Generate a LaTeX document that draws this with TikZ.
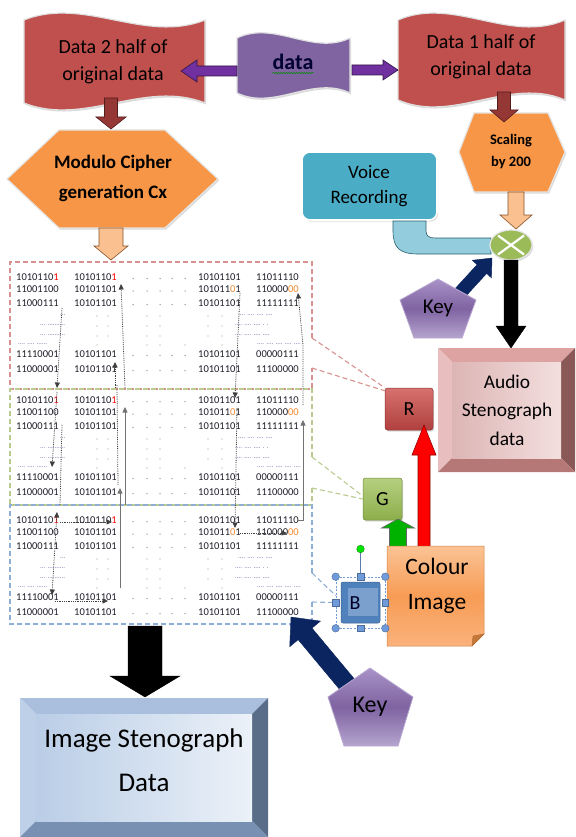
\documentclass[tikz,border=0pt]{standalone}
\usepackage{fontspec}
\setmainfont{Carlito}
\usetikzlibrary{calc,arrows.meta,shadows,decorations.pathmorphing}

\definecolor{banred}{HTML}{C0504D}
\definecolor{banpurple}{HTML}{8064A2}
\definecolor{arrpurple}{HTML}{7030A0}
\definecolor{arrbrown}{HTML}{953735}
\definecolor{hexorange}{HTML}{F79646}
\definecolor{paleorange}{HTML}{FAC090}
\definecolor{voiceblue}{HTML}{4BACC6}
\definecolor{pipeblue}{HTML}{93CDDD}
\definecolor{mixgreen}{HTML}{9BBB59}
\definecolor{keynavy}{HTML}{0B2560}
\definecolor{keytop}{HTML}{A892C6}
\definecolor{keymid}{HTML}{7F63A2}
\definecolor{keybot}{HTML}{B5A4CE}
\definecolor{dashred}{HTML}{D99290}
\definecolor{dashgreen}{HTML}{B9CC8E}
\definecolor{dashblue}{HTML}{8EAED6}
\definecolor{bitgrey}{HTML}{1E1E2A}
\definecolor{bitorange}{HTML}{F08A30}
\definecolor{dotgrey}{HTML}{A8998C}
\definecolor{selblue}{HTML}{6F9BDB}
\definecolor{rtop}{HTML}{D6726F}
\definecolor{rbot}{HTML}{B0403D}
\definecolor{gtop}{HTML}{B5D07F}
\definecolor{gbot}{HTML}{8DAE4C}
\definecolor{bblue}{HTML}{4F81BD}
\definecolor{notetop}{HTML}{FBC395}
\definecolor{notemid}{HTML}{F79C55}
\definecolor{notebot}{HTML}{FAB27C}
\definecolor{audtop}{HTML}{DDA3A2}
\definecolor{audleft}{HTML}{E8BFBE}
\definecolor{audright}{HTML}{8A5957}
\definecolor{audbot}{HTML}{B67876}
\definecolor{imgtop}{HTML}{A9BFDD}
\definecolor{imgleft}{HTML}{BDD0E8}
\definecolor{imgright}{HTML}{5A6D88}
\definecolor{imgbot}{HTML}{7890B1}

% block arrow: style, from, to, half shaft, half head, head length
\newcommand{\blockarr}[6]{%
  \path ($(#3)!#6!(#2)$) coordinate (hb);
  \filldraw[#1] ($(#2)!#4!90:(#3)$) -- ($(hb)!#4!90:(#3)$) -- ($(hb)!#5!90:(#3)$)
    -- (#3) -- ($(hb)!#5!-90:(#3)$) -- ($(hb)!#4!-90:(#3)$) -- ($(#2)!#4!-90:(#3)$) -- cycle;}

% waving banner: style, left, right, top, bottom, bend
\newcommand{\wavebanner}[6]{%
  \filldraw[#1] (#2,#4) .. controls ({#2+(#3-#2)/3},{#4-#6}) and ({#2+2*(#3-#2)/3},{#4+#6}) .. (#3,#4)
    -- (#3,#5) .. controls ({#2+2*(#3-#2)/3},{#5-#6}) and ({#2+(#3-#2)/3},{#5+#6}) .. (#2,#5) -- cycle;}

% bevelled box: x1, y1, x2, y2, bevel, colour prefix
\newcommand{\bevelbox}[6]{%
  \fill[#6top] (#1,#2) -- (#3,#2) -- ({#3-#5},{#2+#5}) -- ({#1+#5},{#2+#5}) -- cycle;
  \fill[#6left] (#1,#2) -- ({#1+#5},{#2+#5}) -- ({#1+#5},{#4-#5}) -- (#1,#4) -- cycle;
  \fill[#6right] (#3,#2) -- ({#3-#5},{#2+#5}) -- ({#3-#5},{#4-#5}) -- (#3,#4) -- cycle;
  \fill[#6bot] (#1,#4) -- ({#1+#5},{#4-#5}) -- ({#3-#5},{#4-#5}) -- (#3,#4) -- cycle;
  \shade[#6face] ({#1+#5},{#2+#5}) rectangle ({#3-#5},{#4-#5});}

% one block of bit rows: top row y, name prefix
\newcommand{\bitrows}[2]{%
  \foreach \dy/\ca/\cb/\cc/\cd [count=\i] in {%
    0/{1010110\textcolor{red}{1}}/{1010110\textcolor{red}{1}}/{10101101}/{11011110},
    12.5/{11001100}/{10101101}/{101011\textcolor{bitorange}{0}1}/{110000\textcolor{bitorange}{00}},
    26/{11000111}/{10101101}/{10101101}/{11111111},
    77/{11110001}/{10101101}/{10101101}/{00000111},
    92/{11000001}/{10101101}/{10101101}/{11100000}}{%
    \node[bits] (#2-\i-a) at (16,{#1+\dy}) {\ca};
    \node[bits] (#2-\i-b) at (74,{#1+\dy}) {\cb};
    \node[bits] (#2-\i-c) at (198,{#1+\dy}) {\cc};
    \node[bits] (#2-\i-d) at (256,{#1+\dy}) {\cd};
    \foreach \x in {133,147,160,172,185} \fill[dotgrey] (\x,{#1+\dy+1.5}) circle (.75pt);
  }%
  \node[gap] (#2-g1) at (60,{#1+38}) {...};
  \node[gap] (#2-g2) at (40,{#1+48}) {... ..........};
  \node[gap] (#2-g3) at (40,{#1+58}) {... ..........};
  \node[gap] (#2-g4) at (18,{#1+67}) {.... .... ......};
  \node[gap] (#2-g5) at (238,{#1+38}) {.... .... .... ....};
  \node[gap] (#2-g6) at (235,{#1+48}) {.... .... .... . .};
  \node[gap] (#2-g7) at (235,{#1+58}) {.... .... .... ....};
  \node[gap] (#2-g8) at (257,{#1+67}) {.... .... .... .... ....};
  \foreach \dy in {38,48,58} \foreach \x in {97,108,147,160,208,222}
    \fill[dotgrey] (\x,{#1+\dy+1}) circle (.7pt);
  \foreach \x in {97,147,160,185,222} \fill[dotgrey] (\x,{#1+68}) circle (.7pt);
}

\begin{document}
\begin{tikzpicture}[x=1pt,y=-1pt,
  lbl/.style={inner sep=0pt, align=center, text=black},
  glow/.style={drop shadow={shadow xshift=1.2pt, shadow yshift=-1.6pt, opacity=.28}},
  bits/.style={anchor=west, inner sep=0pt, text=bitgrey, font=\fontsize{10.5}{12}\selectfont},
  gap/.style={anchor=west, inner sep=0pt, text=dotgrey!70!blue, font=\fontsize{7}{7}\selectfont},
  trace/.style={draw=black!75, densely dotted, line width=.8pt, -{Triangle[width=5pt,length=5.5pt]}},
  thinarr/.style={draw=black!55, line width=.7pt, -{Triangle[width=5pt,length=5.5pt]}},
  outline/.style={dash pattern=on 5pt off 3pt, line width=1.1pt},
  handle/.style={fill=selblue, draw=selblue!70!black, line width=.4pt},
  audface/.style={left color=audleft!95!black, right color=audtop!35!white},
  imgface/.style={left color=imgleft!85!imgtop, right color=imgleft!30!white},
  keyfill/.style={top color=keytop, bottom color=keybot, middle color=keymid, draw=keytop!80!white, line width=.8pt},
]
\useasboundingbox[fill=white] (0,0) rectangle (575,837);

% ---------- top row: the data and its two halves ----------
\wavebanner{fill=banred, draw=black!12, line width=1.2pt, glow}{24}{205}{20}{103}{24}
\node[lbl, font=\fontsize{20}{27}\selectfont] (half2) at (113,62) {Data 2 half of\\original data};
\wavebanner{fill=banpurple, draw=black!12, line width=1.2pt, glow}{237}{350}{38}{93}{18}
\node[lbl, font=\bfseries\fontsize{22}{24}\selectfont, text=black!80!blue] (data) at (293,62) {data};
\draw[green!55!black, line width=.5pt, decorate, decoration={snake, amplitude=.7pt, segment length=2.6pt}]
  ($(data.south west)+(0,3)$) -- ($(data.south east)+(0,3)$);
\wavebanner{fill=banred, draw=black!12, line width=1.2pt, glow}{398}{565}{20}{100}{24}
\node[lbl, font=\fontsize{20}{27}\selectfont] (half1) at (481,57) {Data 1 half of\\original data};

\coordinate (pa0) at (237,71); \coordinate (pa1) at (181,71);
\coordinate (pb0) at (352,70); \coordinate (pb1) at (398,70);
\blockarr{fill=arrpurple, draw=arrpurple!45!black, line width=.6pt}{pa0}{pa1}{5pt}{11pt}{16pt}
\blockarr{fill=arrpurple, draw=arrpurple!45!black, line width=.6pt}{pb0}{pb1}{5pt}{10pt}{15pt}

% ---------- cipher and scaling ----------
\filldraw[fill=hexorange, draw=black!10, line width=1.2pt, glow]
  (59,130) -- (165,130) -- (218,179) -- (165,228) -- (59,228) -- (7,179) -- cycle;
\node[lbl, font=\bfseries\fontsize{19}{30}\selectfont] (modc) at (113,178) {Modulo Cipher\\generation Cx};
\filldraw[fill=hexorange, draw=black!10, line width=1.2pt, glow]
  (474,113) -- (548,113) -- (565,152) -- (548,192) -- (474,192) -- (459,152) -- cycle;
\node[lbl, font=\bfseries\fontsize{14.5}{22}\selectfont] (scal) at (511,152) {Scaling\\by 200};

\coordinate (ba0) at (111,98); \coordinate (ba1) at (111,129);
\coordinate (bb0) at (504,92); \coordinate (bb1) at (504,122);
\blockarr{fill=arrbrown, draw=arrbrown!55!black, line width=.6pt}{ba0}{ba1}{6.5pt}{15pt}{12pt}
\blockarr{fill=arrbrown, draw=arrbrown!55!black, line width=.6pt}{bb0}{bb1}{6.5pt}{14pt}{12pt}

% ---------- voice recording and mixer ----------
\filldraw[fill=voiceblue, draw=white, line width=1.6pt, rounded corners=8pt, glow] (302,152) rectangle (437,220);
\node[lbl, font=\fontsize{19}{25}\selectfont] (voice) at (369,186) {Voice\\Recording};
\filldraw[fill=pipeblue, draw=voiceblue!55!black, line width=.6pt]
  (393,221) -- (393,231) .. controls (393,248) and (400,254) .. (418,254) -- (491,254) -- (491,238)
  -- (435,238) .. controls (429,238) and (426,236) .. (426,231) -- (426,221) -- cycle;

\coordinate (oa0) at (111,228); \coordinate (oa1) at (111,260);
\coordinate (ob0) at (516,192); \coordinate (ob1) at (516,229);
\blockarr{fill=paleorange, draw=hexorange!55!black, line width=.6pt}{oa0}{oa1}{12pt}{17pt}{14pt}
\blockarr{fill=paleorange, draw=hexorange!55!black, line width=.6pt}{ob0}{ob1}{8pt}{16pt}{14pt}

\coordinate (mix) at (511,245);
\filldraw[fill=mixgreen, draw=black!10, line width=1.2pt, glow] (mix) ellipse [x radius=21pt, y radius=15pt];
\draw[white, line width=2.2pt] ($(mix)+(-13,-9.5)$) -- ($(mix)+(13,9.5)$);
\draw[white, line width=2.2pt] ($(mix)+(-13,9.5)$) -- ($(mix)+(13,-9.5)$);

% key for the audio path
\coordinate (k1a) at (448,306); \coordinate (k1b) at (492,258);
\blockarr{fill=keynavy, draw=keynavy}{k1a}{k1b}{6.5pt}{13pt}{15pt}
\shadedraw[keyfill] (438,279) -- (476,300) -- (462,338) -- (414,338) -- (400,300) -- cycle;
\node[lbl, font=\fontsize{21}{24}\selectfont] (key1) at (438,308) {Key};

\coordinate (mixs) at (511,260); \coordinate (audin) at (511,348);
\blockarr{fill=black, draw=black}{mixs}{audin}{7pt}{15pt}{22pt}

% audio result
\bevelbox{438}{348}{575}{472}{14}{aud}
\node[lbl, font=\fontsize{19.4}{28.5}\selectfont] (audio) at (507,410) {Audio\\Stenograph\\data};

% ---------- bit matrix ----------
\coordinate (rc1) at (312,338); \coordinate (rc2) at (312,368);
\coordinate (gc1) at (312,457); \coordinate (gc2) at (312,488);
\coordinate (bc1) at (312,573); \coordinate (bc2) at (312,602);

\node[draw=rbot!80!black, line width=.5pt, rounded corners=2.5pt, top color=rtop, bottom color=rbot,
  minimum width=48pt, minimum height=42pt, inner sep=0pt, glow, font=\fontsize{20}{22}\selectfont] (rbox) at (409,409) {R};
\node[draw=gbot!80!black, line width=.5pt, rounded corners=2.5pt, top color=gtop, bottom color=gbot,
  minimum width=39pt, minimum height=42pt, inner sep=0pt, glow, font=\fontsize{20}{22}\selectfont] (gbox) at (382.5,499) {G};

\draw[dashred, outline] (rc1) -- (312,262) -- (10,262) -- (10,389) -- (312,389) -- (rc2);
\draw[dashred, outline] (rc1) -- (rbox.north west) (rc2) -- ($(rbox.north west)+(0,3)$);
\draw[dashgreen, outline] (gc1) -- (312,389) -- (10,389) -- (10,505) -- (312,505) -- (gc2);
\draw[dashgreen, outline] (gc1) -- ($(gbox.west)+(0,-3)$) (gc2) -- (gbox.west);
\draw[dashblue, outline] (bc1) -- (312,505) -- (10,505) -- (10,624) -- (312,624) -- (bc2);

\bitrows{277}{rr}
\bitrows{400}{gg}
\bitrows{520}{bl}

\coordinate (t1a) at (62,308);  \coordinate (t1b) at (57,388);
\coordinate (t2a) at (125,388); \coordinate (t2b) at (121,284);
\coordinate (t3a) at (115,388); \coordinate (t3b) at (115,362);
\coordinate (t4a) at (240,293); \coordinate (t4b) at (235,398);
\coordinate (t5a) at (303,405); \coordinate (t5m) at (303,345); \coordinate (t5b) at (298,293);
\coordinate (t6a) at (57,392);  \coordinate (t6b) at (52,467);
\coordinate (t7a) at (62,425);  \coordinate (t7b) at (60,505);
\coordinate (t8a) at (117,385); \coordinate (t8b) at (118,485);
\coordinate (t9a) at (120,588); \coordinate (t9b) at (120,488);
\coordinate (t10a) at (125,505); \coordinate (t10b) at (125,407);
\coordinate (t11a) at (237,408); \coordinate (t11b) at (235,528);
\coordinate (t12a) at (298,520); \coordinate (t12m) at (303,520); \coordinate (t12b) at (303,420);
\coordinate (t13a) at (57,512);  \coordinate (t13b) at (52,595);
\coordinate (t14a) at (60,522);  \coordinate (t14b) at (112,522);
\coordinate (t15a) at (55,601);  \coordinate (t15b) at (108,601);
\coordinate (t16a) at (240,533); \coordinate (t16b) at (287,533);

\draw[trace] (t1a) -- (t1b);
\draw[trace] (t2a) -- (t2b);
\draw[trace] (t3a) -- (t3b);
\draw[trace] (t4a) -- (t4b);
\draw[trace] (t5a) -- (t5m) -- (t5b);
\draw[trace] (t6a) -- (t6b);
\draw[trace, -] (t7a) -- (t7b);
\draw[trace, -] (t8a) -- (t8b);
\draw[thinarr] (t9a) -- (t9b);
\draw[thinarr] (t10a) -- (t10b);
\draw[trace] (t11a) -- (t11b);
\draw[thinarr] (t12a) -- (t12m) -- (t12b);
\draw[trace, {Triangle[width=5pt,length=5.5pt]}-{Triangle[width=5pt,length=5.5pt]}] (t13a) -- (t13b);
\draw[trace] (t14a) -- (t14b);
\draw[trace] (t15a) -- (t15b);
\draw[trace] (t16a) -- (t16b);

% ---------- colour image and its channels ----------
\coordinate (ra0) at (424,547); \coordinate (ra1) at (424,425);
\blockarr{fill=red, draw=red!55!black, line width=.6pt}{ra0}{ra1}{6pt}{12pt}{30pt}
\coordinate (ga0) at (398,547); \coordinate (ga1) at (398,519);
\blockarr{fill=green!70!black, draw=black!60, line width=.6pt}{ga0}{ga1}{8.5pt}{16.5pt}{9pt}

\shadedraw[top color=notetop, bottom color=notebot, middle color=notemid, draw=hexorange!85!black, line width=.5pt]
  (387,546) -- (484,546) -- (484,634) -- (472,646) -- (387,646) -- cycle;
\filldraw[fill=hexorange!80!black, draw=hexorange!70!black, line width=.4pt] (484,634) -- (473,636) -- (472,646) -- cycle;
\node[lbl, font=\fontsize{23.5}{35}\selectfont] (cimg) at (437,586) {Colour\\Image};

\node[draw=selblue, dash pattern=on 2pt off 1.5pt, line width=.6pt, minimum width=49pt, minimum height=51pt, inner sep=0pt] (bsel) at (360.5,602.5) {};
\node[fill=bblue, draw=bblue!75!black, line width=.5pt, rounded corners=2pt, minimum width=39pt, minimum height=41pt, inner sep=0pt] (bbox) at (360.5,602.5) {};
\fill[bblue!75!white] (348,588) rectangle (378,616);
\node[lbl, font=\fontsize{20}{22}\selectfont, text=black!85!blue] (bch) at (355,603) {B};
\draw[dashblue, outline] (bc1) -- ($(bsel.west)+(0,-7)$) (bc2) -- (bsel.west);
\coordinate (rot) at (360.5,549);
\draw[selblue!80!black, line width=.6pt] (bsel.north) -- (rot);
\filldraw[fill=green!90!black, draw=green!45!black, line width=.3pt] (rot) circle (3.8pt);
\foreach \a in {north west, north east, south west, south east} \filldraw[handle] (bsel.\a) circle (3.8pt);
\foreach \a in {north, south, east, west} \filldraw[handle] ($(bsel.\a)+(-3.3,-3.3)$) rectangle ++(6.6,6.6);

% key for the image path
\coordinate (k2a) at (356,695); \coordinate (k2b) at (291,617);
\blockarr{fill=keynavy, draw=keynavy}{k2a}{k2b}{9pt}{20pt}{22pt}
\shadedraw[keyfill] (370,668) -- (413,697) -- (398,746) -- (344,746) -- (328,697) -- cycle;
\node[lbl, font=\fontsize{24}{26}\selectfont] (key2) at (370,707) {Key};

% ---------- image result ----------
\coordinate (ka0) at (145,626); \coordinate (ka1) at (145,697);
\blockarr{fill=black, draw=black}{ka0}{ka1}{17pt}{35pt}{21pt}
\bevelbox{20}{698}{268}{837}{16}{img}
\node[lbl, font=\fontsize{27}{44}\selectfont] (imgst) at (144,760) {Image Stenograph\\Data};
\end{tikzpicture}
\end{document}
